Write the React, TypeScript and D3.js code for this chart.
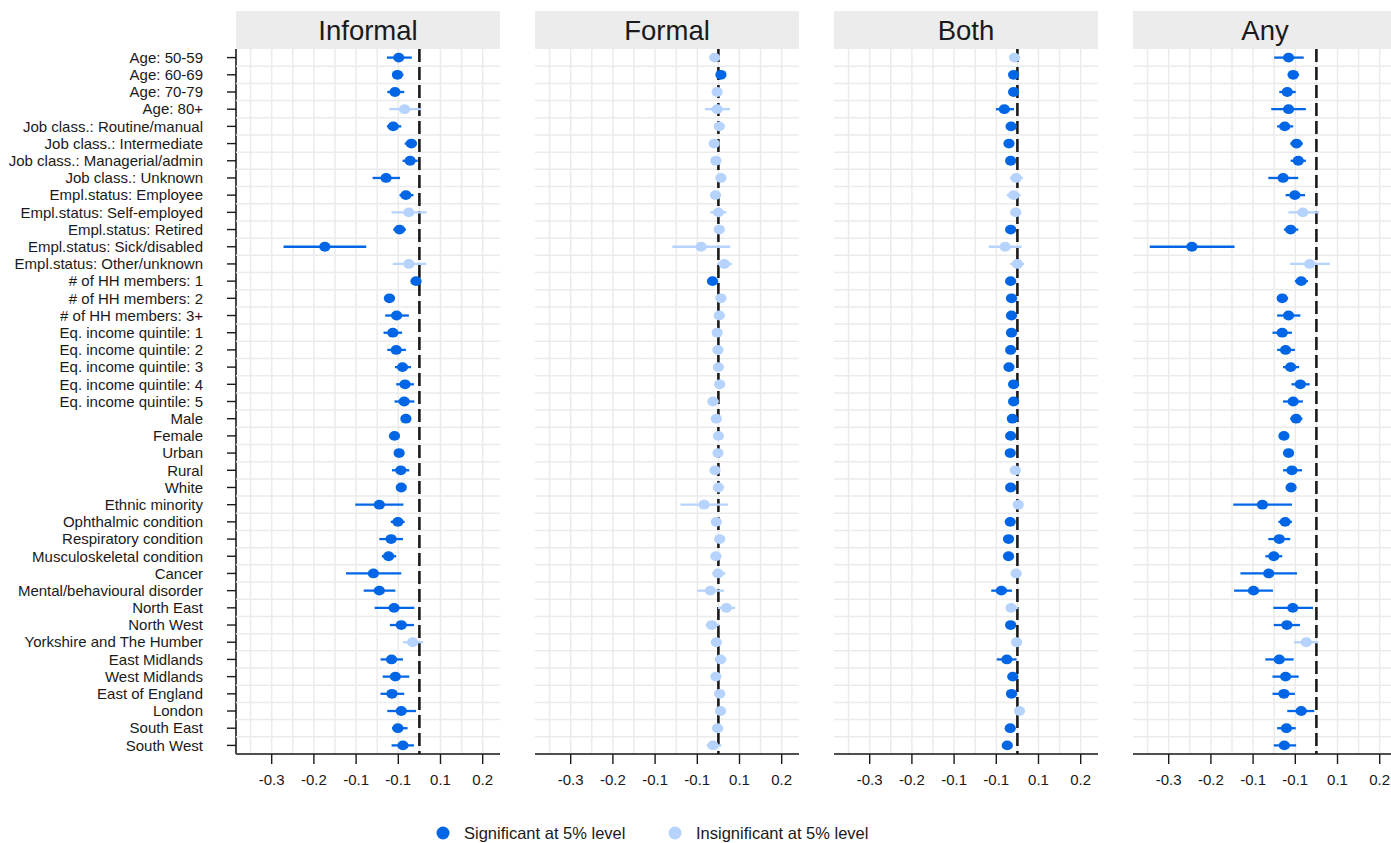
import * as d3 from "d3";

const rowLabels = [
  "Age: 50-59", "Age: 60-69", "Age: 70-79", "Age: 80+",
  "Job class.: Routine/manual", "Job class.: Intermediate", "Job class.: Managerial/admin", "Job class.: Unknown",
  "Empl.status: Employee", "Empl.status: Self-employed", "Empl.status: Retired", "Empl.status: Sick/disabled", "Empl.status: Other/unknown",
  "# of HH members: 1", "# of HH members: 2", "# of HH members: 3+",
  "Eq. income quintile: 1", "Eq. income quintile: 2", "Eq. income quintile: 3", "Eq. income quintile: 4", "Eq. income quintile: 5",
  "Male", "Female", "Urban", "Rural", "White", "Ethnic minority",
  "Ophthalmic condition", "Respiratory condition", "Musculoskeletal condition", "Cancer", "Mental/behavioural disorder",
  "North East", "North West", "Yorkshire and The Humber", "East Midlands", "West Midlands", "East of England", "London", "South East", "South West",
];

const panelNames = ["Informal", "Formal", "Both", "Any"];

const informalEst = [-0.049, -0.052, -0.058, -0.035, -0.062, -0.019, -0.022, -0.079, -0.032, -0.025, -0.047, -0.224, -0.025, -0.008, -0.071, -0.054, -0.063, -0.055, -0.04, -0.034, -0.036, -0.032, -0.059, -0.048, -0.044, -0.043, -0.095, -0.051, -0.067, -0.073, -0.109, -0.095, -0.06, -0.043, -0.016, -0.066, -0.057, -0.065, -0.043, -0.051, -0.039];
const informalLo = [-0.077, -0.065, -0.076, -0.071, -0.077, -0.035, -0.04, -0.111, -0.047, -0.066, -0.062, -0.322, -0.063, -0.02, -0.083, -0.081, -0.085, -0.076, -0.058, -0.055, -0.059, -0.041, -0.071, -0.058, -0.065, -0.054, -0.152, -0.068, -0.095, -0.089, -0.174, -0.132, -0.106, -0.07, -0.039, -0.092, -0.087, -0.092, -0.076, -0.065, -0.066];
const informalHi = [-0.018, -0.038, -0.036, 0.004, -0.043, -0.006, -0.004, -0.046, -0.014, 0.017, -0.032, -0.126, 0.016, -0.001, -0.058, -0.025, -0.041, -0.032, -0.02, -0.013, -0.012, -0.02, -0.047, -0.037, -0.024, -0.032, -0.038, -0.035, -0.039, -0.055, -0.043, -0.057, -0.012, -0.013, 0.009, -0.039, -0.024, -0.036, -0.008, -0.028, -0.013];

const formalEst = [-0.009, 0.006, -0.003, -0.003, 0.002, -0.01, -0.006, 0.006, -0.007, 0, 0.002, -0.041, 0.014, -0.014, 0.006, 0.002, -0.003, -0.001, 0, 0.003, -0.013, -0.005, 0, -0.001, -0.008, 0, -0.034, -0.005, 0.003, -0.006, -0.001, -0.019, 0.019, -0.016, -0.005, 0.005, -0.006, 0.003, 0.005, -0.002, -0.013];
const formalLo = [-0.016, 0.001, -0.009, -0.032, -0.004, -0.016, -0.012, -0.001, -0.013, -0.019, -0.004, -0.109, -0.003, -0.022, -0.001, -0.004, -0.009, -0.007, -0.006, -0.003, -0.018, -0.011, -0.006, -0.007, -0.014, -0.006, -0.09, -0.011, -0.003, -0.012, -0.014, -0.05, -0.001, -0.03, -0.011, -0.008, -0.012, -0.003, -0.004, -0.008, -0.028];
const formalHi = [0.001, 0.011, 0.003, 0.027, 0.008, 0.001, 0.002, 0.012, 0.001, 0.019, 0.008, 0.028, 0.032, -0.006, 0.012, 0.008, 0.003, 0.005, 0.006, 0.009, 0.001, 0.001, 0.006, 0.005, 0.002, 0.006, 0.023, 0.001, 0.009, 0.002, 0.017, 0.013, 0.04, 0.002, 0.001, 0.019, 0.002, 0.009, 0.014, 0.004, 0.007];

const bothEst = [-0.007, -0.009, -0.009, -0.031, -0.015, -0.02, -0.016, -0.003, -0.009, -0.004, -0.016, -0.029, 0, -0.016, -0.014, -0.014, -0.014, -0.016, -0.02, -0.009, -0.009, -0.012, -0.016, -0.017, -0.005, -0.016, 0.002, -0.017, -0.021, -0.021, -0.003, -0.038, -0.015, -0.016, -0.002, -0.025, -0.011, -0.014, 0.005, -0.017, -0.024];
const bothLo = [-0.014, -0.015, -0.015, -0.051, -0.022, -0.027, -0.023, -0.018, -0.025, -0.011, -0.023, -0.068, -0.017, -0.022, -0.02, -0.02, -0.02, -0.022, -0.026, -0.015, -0.015, -0.018, -0.022, -0.023, -0.011, -0.022, -0.006, -0.023, -0.027, -0.027, -0.01, -0.062, -0.022, -0.022, -0.008, -0.049, -0.017, -0.02, -0.002, -0.023, -0.03];
const bothHi = [0.001, -0.003, -0.003, -0.008, -0.008, -0.013, -0.009, 0.013, 0.008, 0.003, -0.009, 0.01, 0.016, -0.01, -0.008, -0.008, -0.008, -0.01, -0.014, -0.003, -0.003, -0.006, -0.01, -0.011, 0.002, -0.01, 0.01, -0.011, -0.015, -0.015, 0.004, -0.013, 0.002, -0.01, 0.004, -0.002, -0.005, -0.008, 0.012, -0.011, -0.018];

const anyEst = [-0.066, -0.055, -0.069, -0.066, -0.075, -0.047, -0.043, -0.079, -0.051, -0.032, -0.061, -0.295, -0.016, -0.036, -0.081, -0.066, -0.081, -0.073, -0.061, -0.038, -0.055, -0.048, -0.077, -0.066, -0.058, -0.06, -0.128, -0.074, -0.088, -0.101, -0.113, -0.149, -0.056, -0.07, -0.024, -0.088, -0.073, -0.077, -0.036, -0.071, -0.076];
const anyLo = [-0.1, -0.068, -0.088, -0.107, -0.093, -0.062, -0.061, -0.114, -0.073, -0.066, -0.077, -0.395, -0.063, -0.051, -0.093, -0.093, -0.104, -0.093, -0.079, -0.059, -0.079, -0.062, -0.088, -0.075, -0.079, -0.071, -0.197, -0.09, -0.114, -0.121, -0.18, -0.195, -0.102, -0.101, -0.053, -0.121, -0.104, -0.104, -0.069, -0.093, -0.101];
const anyHi = [-0.03, -0.041, -0.049, -0.025, -0.055, -0.032, -0.025, -0.043, -0.027, 0.006, -0.043, -0.194, 0.032, -0.02, -0.067, -0.038, -0.058, -0.051, -0.041, -0.016, -0.032, -0.033, -0.066, -0.055, -0.034, -0.049, -0.058, -0.058, -0.062, -0.081, -0.046, -0.103, -0.008, -0.039, 0.004, -0.054, -0.042, -0.051, -0.005, -0.049, -0.048];

const panelEst = [informalEst, formalEst, bothEst, anyEst];
const panelLo = [informalLo, formalLo, bothLo, anyLo];
const panelHi = [informalHi, formalHi, bothHi, anyHi];

const xTickValues = [-0.35, -0.25, -0.15, -0.05, 0.05, 0.15];
const xTickLabels = ["-0.3", "-0.2", "-0.1", "-0.1", "0.1", "0.2"];
const xMinorValues = [-0.4, -0.3, -0.2, -0.1, 0, 0.1];
const legendLabels = ["Significant at 5% level", "Insignificant at 5% level"];

const W = 1391;
const H = 843;
const left = 236;
const panelW = 264;
const panelStep = 299;
const top = 49;
const bottom = 754;
const stripTop = 11;
const SIG = "#0066e6";
const INSIG = "#b5d3fc";
const GRID = "#ebebeb";
const FONT = "'Liberation Sans', Arial, sans-serif";

export default function App() {
  const x = d3.scaleLinear().domain([-0.4346, 0.191]).range([0, panelW]);
  const y = d3.scalePoint<string>().domain(rowLabels).range([top, bottom]).padding(0.5);
  const step = y.step();
  const color = d3.scaleOrdinal<string, string>().domain(["sig", "insig"]).range([SIG, INSIG]);

  return (
    <svg width={W} height={H} style={{ position: "absolute", left: 0, top: 0, background: "#fff" }} fontFamily={FONT}>
      {/* y axis labels, only on the first panel */}
      <g>
        {rowLabels.map((lab) => (
          <g key={lab}>
            <text x={203} y={y(lab)} dy="0.35em" textAnchor="end" fontSize={15} fill="#1a1a1a">{lab}</text>
            <line x1={227} x2={left} y1={y(lab)} y2={y(lab)} stroke="#1a1a1a" strokeWidth={1.4} />
          </g>
        ))}
        <line x1={left} x2={left} y1={top} y2={bottom} stroke="#1a1a1a" strokeWidth={1.6} />
      </g>

      {panelNames.map((name, p) => {
        const ox = left + p * panelStep;
        const est = panelEst[p];
        const lo = panelLo[p];
        const hi = panelHi[p];
        return (
          <g key={name} transform={`translate(${ox},0)`}>
            {/* strip */}
            <rect x={0} y={stripTop} width={panelW} height={top - stripTop} fill="#ececec" />
            <text x={panelW / 2} y={(stripTop + top) / 2} dy="0.36em" textAnchor="middle" fontSize={27.5} fill="#1a1a1a">{name}</text>

            {/* grid */}
            {rowLabels.map((lab) => (
              <line key={"h" + lab} x1={0} x2={panelW} y1={(y(lab) ?? 0) + step / 2} y2={(y(lab) ?? 0) + step / 2} stroke={GRID} strokeWidth={1.5} />
            ))}
            {xTickValues.concat(xMinorValues).map((v) => (
              <line key={"v" + v} x1={x(v)} x2={x(v)} y1={top} y2={bottom} stroke={GRID} strokeWidth={1.5} />
            ))}

            {/* reference line */}
            <line x1={x(0)} x2={x(0)} y1={top} y2={bottom} stroke="#1a1a1a" strokeWidth={2.6} strokeDasharray="13,5" />

            {/* estimates */}
            {rowLabels.map((lab, i) => {
              const c = color(lo[i] > 0 || hi[i] < 0 ? "sig" : "insig");
              return (
                <g key={"p" + lab}>
                  <line x1={x(lo[i])} x2={x(hi[i])} y1={y(lab)} y2={y(lab)} stroke={c} strokeWidth={2.3} />
                  <ellipse cx={x(est[i])} cy={y(lab)} rx={5.6} ry={4.9} fill={c} />
                </g>
              );
            })}

            {/* x axis */}
            <line x1={0} x2={panelW} y1={bottom} y2={bottom} stroke="#1a1a1a" strokeWidth={1.6} />
            {xTickValues.map((v, i) => (
              <g key={"t" + v}>
                <line x1={x(v)} x2={x(v)} y1={bottom} y2={bottom + 10} stroke="#1a1a1a" strokeWidth={1.4} />
                <text x={x(v)} y={bottom + 26} dy="0.35em" textAnchor="middle" fontSize={15} fill="#1a1a1a">{xTickLabels[i]}</text>
              </g>
            ))}
          </g>
        );
      })}

      {/* legend */}
      <g>
        {legendLabels.map((lab, i) => (
          <g key={lab} transform={`translate(${i === 0 ? 443 : 675},833)`}>
            <circle cx={0} cy={0} r={6.5} fill={i === 0 ? SIG : INSIG} />
            <text x={21} y={0} dy="0.36em" fontSize={16.5} fill="#1a1a1a">{lab}</text>
          </g>
        ))}
      </g>
    </svg>
  );
}
